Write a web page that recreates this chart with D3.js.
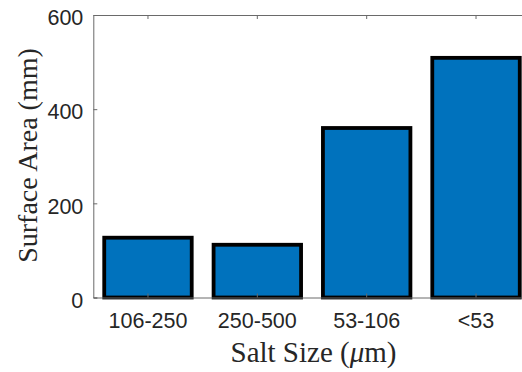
<!DOCTYPE html>
<html>
<head>
<meta charset="utf-8">
<script src="https://cdn.jsdelivr.net/npm/d3@7"></script>
<style>
  html, body { margin: 0; padding: 0; background: #fff; }
  svg { display: block; }
</style>
</head>
<body>
<svg id="chart" width="522" height="372"></svg>
<script>
// Salt size classes and measured surface area for each
const categories = ["106-250", "250-500", "53-106", "<53"];
const surfaceArea = [127, 112, 360, 509];
const yTicks = [0, 200, 400, 600];

const svg = d3.select("#chart");
const plotLeft = 93.3, plotTop = 15, plotBottom = 297.5, plotRight = 530.7;

const x = d3.scaleBand().domain(categories).range([plotLeft, plotRight]).paddingInner(0.2).paddingOuter(0.1);
const y = d3.scaleLinear().domain([0, 600]).range([plotBottom, plotTop]);

const axisColor = "#6a6a6a";
const textColor = "#262626";

// Bars
svg.append("g").selectAll("rect").data(categories).join("rect")
  .attr("x", d => x(d))
  .attr("width", x.bandwidth())
  .attr("y", (d, i) => y(surfaceArea[i]))
  .attr("height", (d, i) => y(0) - y(surfaceArea[i]))
  .attr("fill", "#0072BD")
  .attr("stroke", "#000")
  .attr("stroke-width", 3.8);

// Axes box: left, bottom, top lines
const yAxis = d3.axisLeft(y).tickValues(yTicks).tickSize(-4).tickPadding(10);
const gy = svg.append("g").attr("transform", `translate(${plotLeft},0)`).call(yAxis);
gy.select(".domain").attr("stroke", axisColor);
gy.selectAll(".tick line").attr("stroke", axisColor);
gy.selectAll(".tick text")
  .attr("dy", "0.45em")
  .attr("fill", textColor)
  .style("font-family", "Liberation Sans, Arial, sans-serif")
  .style("font-size", "21.5px");

const xAxis = d3.axisBottom(x).tickSize(-4).tickSizeOuter(0).tickPadding(15.5);
const gx = svg.append("g").attr("transform", `translate(0,${plotBottom})`).call(xAxis);
gx.select(".domain").attr("stroke", axisColor);
gx.selectAll(".tick line").attr("stroke", axisColor);
gx.selectAll(".tick text")
  .attr("fill", textColor)
  .style("font-family", "Liberation Sans, Arial, sans-serif")
  .style("font-size", "21.5px");

const xTop = d3.axisTop(x).tickSize(-4).tickSizeOuter(0).tickFormat("");
const gt = svg.append("g").attr("transform", `translate(0,${plotTop})`).call(xTop);
gt.select(".domain").attr("stroke", axisColor);
gt.selectAll(".tick line").attr("stroke", axisColor);

// Axis titles
svg.append("text")
  .attr("x", 313.5)
  .attr("y", 361.5)
  .attr("text-anchor", "middle")
  .attr("fill", textColor)
  .style("font-family", "Liberation Serif, Times New Roman, serif")
  .style("font-size", "29px")
  .html('Salt Size (<tspan font-style="italic">μ</tspan>m)');

svg.append("text")
  .attr("transform", "translate(37,155.5) rotate(-90)")
  .attr("text-anchor", "middle")
  .attr("fill", textColor)
  .style("font-family", "Liberation Serif, Times New Roman, serif")
  .style("font-size", "28px")
  .text("Surface Area (mm)");
</script>
</body>
</html>
